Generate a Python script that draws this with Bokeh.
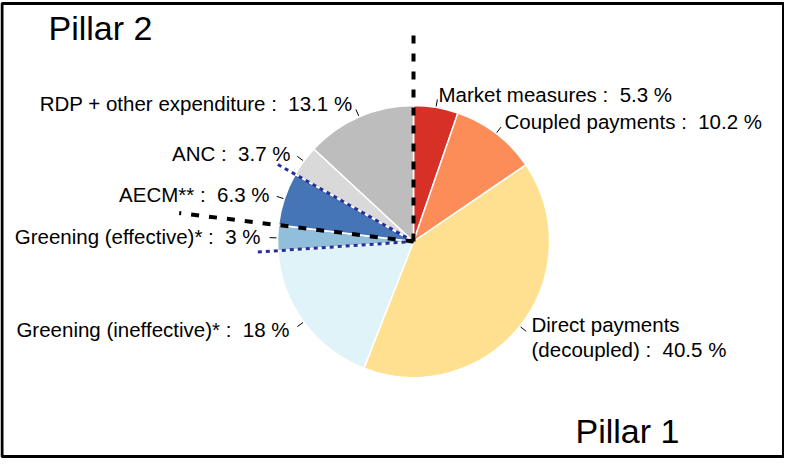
import numpy as np
from bokeh.plotting import figure
from bokeh.models import Range1d, ColumnDataSource
from bokeh.core.properties import value
from bokeh.embed import file_html
from bokeh.resources import INLINE

# ---------------- data ----------------
categories = ["Market measures", "Coupled payments", "Direct payments\n(decoupled)",
              "Greening (ineffective)*", "Greening (effective)*", "AECM**", "ANC",
              "RDP + other expenditure"]
shares = [5.3, 10.2, 40.5, 18, 3, 6.3, 3.7, 13.1]
pillar = [1, 1, 1, 1, 1, 2, 2, 2]
effective = [False, False, False, False, True, True, False, False]
colors = ["#d73027", "#fc8d59", "#fee090", "#e0f3f8", "#91bfdb", "#4575b4", "#d9d9d9", "#bdbdbd"]
pillar_labels = ["Pillar 1", "Pillar 2"]

# ---------------- layout (page pixel coords, y measured downward) ----------------
W, H = 784, 458
CX, CY, R = 421, 249, 136
FONT = "Liberation Sans"
# label anchor: (x, baseline y, align)
label_pos = [(446, 108, "left"), (512, 135, "left"), (539, 338, "left"),
             (297, 343, "right"), (268, 250, "right"), (277, 208, "right"),
             (298, 167, "right"), (360, 117, "right")]
pillar_pos = [(583, 450), (56, 47)]
LABEL_FIX, PILLAR_FIX = 6, 12   # baseline correction of the svg text


def Y(y):
    return 474 - y


p = figure(width=W, height=H, x_range=Range1d(8, 792), y_range=Range1d(8, 466),
           x_axis_type=None, y_axis_type=None, toolbar_location=None,
           output_backend="svg", min_border=0)
p.grid.visible = False
p.outline_line_color = None
p.background_fill_color = "white"

vals = np.array(shares, dtype=float)
frac = vals / vals.sum()
cum = np.concatenate([[0], np.cumsum(frac)])
ang = np.pi / 2 - 2 * np.pi * cum  # clockwise from top

src = ColumnDataSource(dict(start=ang[:-1], end=ang[1:], color=colors, cat=categories, v=shares))
p.wedge(x=CX, y=Y(CY), radius=R, radius_units="screen", start_angle="end", end_angle="start",
        fill_color="color", line_color="white", line_width=1.5, source=src)

# blue dotted boundaries around the "effective" slices
eff_idx = [i for i, e in enumerate(effective) if e]
b_start, b_end = cum[eff_idx[0]], cum[eff_idx[-1] + 1]
for f in (b_start, b_end):
    a = np.pi / 2 - 2 * np.pi * f
    p.line([CX, CX + 158 * np.cos(a)], [Y(CY), Y(CY) + 158 * np.sin(a)],
           line_color="#2a2f96", line_width=3, line_dash="4 4")

# black dashed pillar boundaries
p1_end = cum[max(i for i, q in enumerate(pillar) if q == 1) + 1]
for f, rr in ((0.0, 210), (p1_end, 236)):
    a = np.pi / 2 - 2 * np.pi * f
    p.line([CX, CX + rr * np.cos(a)], [Y(CY), Y(CY) + rr * np.sin(a)],
           line_color="black", line_width=4, line_dash="8 10")

# leader lines
mid = (ang[:-1] + ang[1:]) / 2
xs = [[CX + 137 * np.cos(m), CX + 144 * np.cos(m)] for m in mid]
ys = [[Y(CY) + 137 * np.sin(m), Y(CY) + 144 * np.sin(m)] for m in mid]
p.multi_line(xs, ys, line_color="black", line_width=1)

# labels (double space after the colon kept with a no-break space)
lx, ly, lt, la = [], [], [], []
for cat, v, (x, y, al) in zip(categories, shares, label_pos):
    lines = cat.split("\n")
    lines[-1] = f"{lines[-1]} : \u00a0{v:g} %"
    for k, t in enumerate(lines):
        lx.append(x); ly.append(Y(y + 25 * k - LABEL_FIX)); lt.append(t); la.append(al)
p.text(x=lx, y=ly, text=lt, text_align=la, text_baseline="alphabetic",
       text_font=value(FONT), text_font_size="20.5px", text_color="black")

p.text(x=[q[0] for q in pillar_pos], y=[Y(q[1] - PILLAR_FIX) for q in pillar_pos],
       text=pillar_labels, text_align="left", text_baseline="alphabetic",
       text_font=value(FONT), text_font_size="34px", text_color="black")

# frame border
p.quad(left=[9.5], right=[791], top=[Y(11)], bottom=[Y(464)], fill_color=None,
       line_color="black", line_width=3)

open("out.html", "w").write(file_html(p, INLINE))
